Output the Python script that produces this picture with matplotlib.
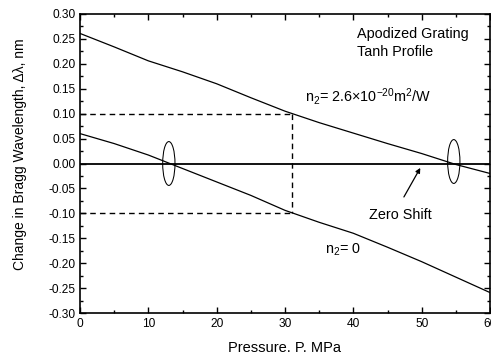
import matplotlib
matplotlib.use("Agg")
import matplotlib.pyplot as plt
from matplotlib.patches import Ellipse
from matplotlib.ticker import MultipleLocator, FormatStrFormatter

plt.rcParams['font.family'] = ['Liberation Sans', 'DejaVu Sans']
plt.rcParams['mathtext.fontset'] = 'custom'
plt.rcParams['mathtext.rm'] = 'Liberation Sans'
plt.rcParams['mathtext.it'] = 'Liberation Sans'

pressure = [0, 5, 10, 15, 20, 25, 30, 35, 40, 45, 50, 55, 60]
shift_n2 = [0.261, 0.234, 0.206, 0.184, 0.160, 0.132, 0.105, 0.082, 0.061, 0.040, 0.020, -0.002, -0.020]
shift_0 = [0.060, 0.040, 0.017, -0.010, -0.037, -0.064, -0.094, -0.118, -0.140, -0.168, -0.197, -0.228, -0.259]
p_mark = 31
levels = [0.1, -0.1]
zero_cross = [(13.0, 0.0), (54.7, 0.004)]

fig = plt.figure(figsize=(4.91, 3.58), dpi=100)
ax = fig.add_axes([80/491, 45/358, 410/491, 299/358])

ax.plot(pressure, shift_n2, color='black', lw=0.9)
ax.plot(pressure, shift_0, color='black', lw=0.9)
ax.plot([0, 60], [0, 0], color='black', lw=1.3)

ax.plot([0, p_mark], [levels[0]] * 2, color='black', lw=1.0, ls=(0, (4, 3)))
ax.plot([0, p_mark], [levels[1]] * 2, color='black', lw=1.0, ls=(0, (4, 3)))
ax.plot([p_mark, p_mark], levels, color='black', lw=1.0, ls=(0, (4, 3)))

for cx, cy in zero_cross:
    ax.add_patch(Ellipse((cx, cy), 1.8, 0.088, fill=False, edgecolor='black', lw=0.75))

ax.annotate('', xy=(50.0, -0.004), xytext=(47.2, -0.072),
            arrowprops=dict(arrowstyle='-|>', color='black', lw=0.9,
                            mutation_scale=7))

fs = 10.4
ax.text(46.9, -0.103, 'Zero Shift', ha='center', va='center', fontsize=fs)
ax.text(35.9, -0.174, r'n$_2$= 0', ha='left', va='center', fontsize=fs)
ax.text(32.9, 0.134, r'n$_2$= 2.6×10$^{-20}$m$^2$/W', ha='left', va='center', fontsize=fs)
ax.text(40.6, 0.260, 'Apodized Grating', ha='left', va='center', fontsize=fs)
ax.text(40.6, 0.224, 'Tanh Profile', ha='left', va='center', fontsize=fs)

ax.set_xlim(0, 60)
ax.set_ylim(-0.30, 0.30)
ax.xaxis.set_major_locator(MultipleLocator(10))
ax.xaxis.set_minor_locator(MultipleLocator(5))
ax.yaxis.set_major_locator(MultipleLocator(0.05))
ax.yaxis.set_minor_locator(MultipleLocator(0.025))
ax.yaxis.set_major_formatter(FormatStrFormatter('%.2f'))
ax.tick_params(which='both', direction='in', top=True, right=True, labelsize=8.6, width=1.0)
ax.tick_params(which='major', length=4)
ax.tick_params(which='minor', length=2.5)
for s in ax.spines.values():
    s.set_linewidth(1.2)

ax.set_xlabel('Pressure. P. MPa', fontsize=10.5)
ax.set_ylabel('Change in Bragg Wavelength, Δλ, nm', fontsize=10)
ax.xaxis.set_label_coords((285 - 80) / 410, (313 - 348) / 299)
ax.xaxis.label.set_va('center')
ax.yaxis.set_label_coords((20 - 80) / 410, (313 - 154) / 299)
ax.yaxis.label.set_va('center')

fig.savefig('out.png', dpi=100)
